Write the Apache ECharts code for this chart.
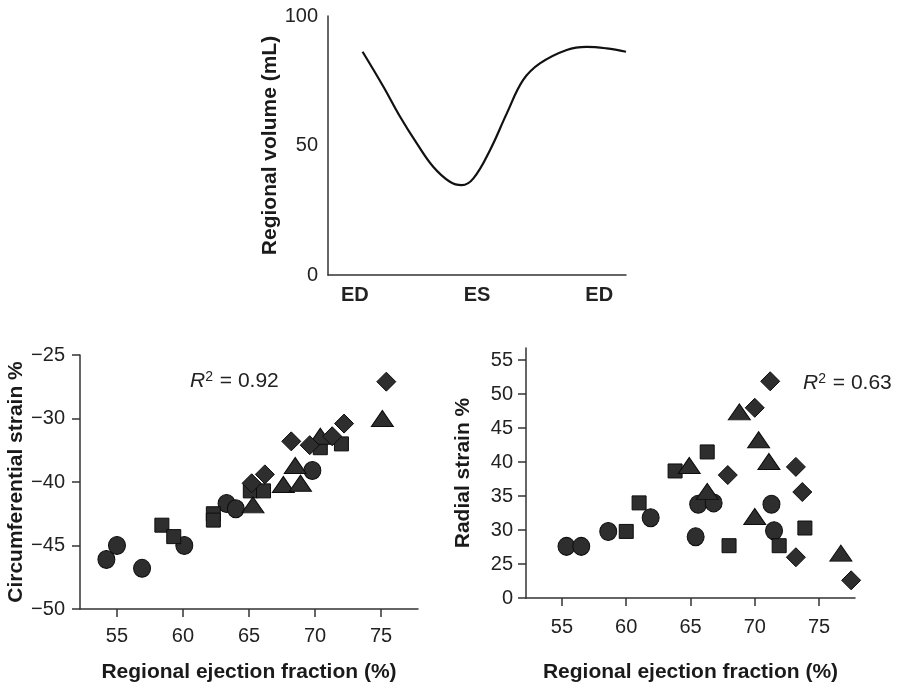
<!DOCTYPE html>
<html>
<head>
    <meta charset="utf-8">
    <title>Regional volume and strain</title>
    <script src="https://cdn.jsdelivr.net/npm/echarts@6/dist/echarts.min.js"></script>
    <style>
        html, body { margin: 0; padding: 0; background: #fff; }
        #main { width: 904px; height: 691px; }
    </style>
</head>
<body>
<div id="main"></div>
<script type="text/javascript">
    // top panel: regional volume over one cycle
    var phaseTicks = [9, 50, 91];
    var phaseLabels = ['ED', 'ES', 'ED'];
    var phaseX = [11.6, 18.6, 24.2, 29.8, 35.3, 40.9, 44.9, 48.8, 54.4, 60.0, 65.5, 71.1, 80.1, 86.8, 93.5, 100];
    var volume = [86.2, 72.7, 61.1, 50.8, 41.8, 36.0, 34.7, 37.3, 48.3, 62.4, 75.3, 81.7, 86.9, 88.1, 87.5, 86.2];

    // shared x ticks of the two scatter panels
    var efTicks = [55, 60, 65, 70, 75];

    // bottom-left: circumferential strain vs regional EF
    var circTicks = [-50, -45, -40, -35, -30];
    var circTickLabels = ['\u221250', '\u221245', '\u221240', '\u221230', '\u221225'];
    var circCircles = [[54.2, -46.1], [55.0, -45.0], [56.9, -46.8], [60.1, -45.0], [63.3, -41.7], [64.0, -42.1], [69.8, -39.1]];
    var circSquares = [[58.4, -43.4], [59.3, -44.3], [62.3, -42.5], [62.3, -43.0], [65.1, -40.7], [66.1, -40.7], [70.4, -37.3], [72.0, -37.0]];
    var circTriangles = [[65.3, -41.8], [67.6, -40.2], [68.5, -38.7], [68.9, -40.1], [70.4, -36.4], [75.1, -35.0]];
    var circDiamonds = [[65.2, -40.1], [66.2, -39.4], [68.2, -36.8], [69.6, -37.1], [71.3, -36.4], [72.2, -35.4], [75.4, -32.1]];

    // bottom-right: radial strain vs regional EF (axis broken below 25)
    var radTicks = [20, 25, 30, 35, 40, 45, 50, 55];
    var radTickLabels = ['0', '25', '30', '35', '40', '45', '50', '55'];
    var radCircles = [[55.35, 27.6], [56.5, 27.6], [58.6, 29.8], [61.9, 31.8], [65.6, 33.8], [66.8, 34.0], [65.4, 29.0], [71.3, 33.8], [71.5, 29.9]];
    var radSquares = [[60.0, 29.8], [61.0, 34.0], [63.8, 38.7], [66.3, 41.5], [68.0, 27.7], [71.9, 27.7], [73.9, 30.3]];
    var radTriangles = [[64.9, 39.5], [66.3, 35.7], [68.8, 47.4], [70.3, 43.3], [71.1, 40.1], [70.0, 32.0], [76.7, 26.6]];
    var radDiamonds = [[71.2, 51.9], [70.0, 48.0], [67.9, 38.1], [73.2, 39.3], [73.7, 35.6], [73.2, 26.0], [77.5, 22.6]];

    var FONT = '"Liberation Sans", Arial, sans-serif';
    var axisLine = { show: true, lineStyle: { color: '#333', width: 1.5 } };
    var labelStyle = { color: '#222', fontSize: 20, fontFamily: FONT };
    var nameStyle = { color: '#1a1a1a', fontSize: 21, fontWeight: 'bold', fontFamily: FONT };
    var markStyle = { color: '#2e2e2e', borderColor: '#0d0d0d', borderWidth: 1, opacity: 1 };

    function pickLabel(ticks, labels) {
        return function (v) {
            for (var i = 0; i < ticks.length; i++) {
                if (Math.abs(ticks[i] - v) < 1e-6) return labels[i];
            }
            return '';
        };
    }

    function efAxis(gridIndex, nameGap, margin) {
        return {
            gridIndex: gridIndex,
            type: 'value',
            min: 52.2,
            max: 77.8,
            name: 'Regional ejection fraction (%)',
            nameLocation: 'middle',
            nameGap: nameGap,
            nameTextStyle: nameStyle,
            axisLine: axisLine,
            axisTick: { show: true, length: 8, customValues: efTicks, lineStyle: { color: '#333', width: 1.5 } },
            axisLabel: Object.assign({ customValues: efTicks, margin: margin }, labelStyle),
            splitLine: { show: false }
        };
    }

    function scatter(name, symbol, size, data, xi, yi) {
        return {
            type: 'scatter',
            name: name,
            xAxisIndex: xi,
            yAxisIndex: yi,
            symbol: symbol,
            symbolSize: size,
            itemStyle: markStyle,
            data: data
        };
    }

    function rSquared(value) {
        return {
            text: '{i|R}{s|2}{n| = ' + value + '}',
            rich: {
                i: { fontSize: 21, fontStyle: 'italic', fontFamily: FONT, fill: '#222' },
                s: { fontSize: 14, fontFamily: FONT, fill: '#222', padding: [0, 1, 9, 0] },
                n: { fontSize: 21, fontFamily: FONT, fill: '#222' }
            }
        };
    }

    var chart = echarts.init(document.getElementById('main'));
    var option = {
        animation: false,
        backgroundColor: '#fff',
        grid: [
            { left: 328, top: 16, width: 298, height: 259 },
            { left: 80, top: 355, width: 338, height: 254 },
            { left: 526, top: 348, width: 329, height: 250 }
        ],
        xAxis: [
            {
                gridIndex: 0,
                type: 'value',
                min: 0,
                max: 100,
                axisLine: axisLine,
                axisTick: { show: false },
                axisLabel: Object.assign({}, labelStyle, {
                    customValues: phaseTicks,
                    formatter: pickLabel(phaseTicks, phaseLabels),
                    fontWeight: 'bold',
                    margin: 10
                }),
                splitLine: { show: false }
            },
            efAxis(1, 53, 17),
            efAxis(2, 64, 19)
        ],
        yAxis: [
            {
                gridIndex: 0,
                type: 'value',
                min: 0,
                max: 100,
                interval: 50,
                name: 'Regional volume (mL)',
                nameLocation: 'middle',
                nameGap: 44,
                nameTextStyle: nameStyle,
                axisLine: axisLine,
                axisTick: { show: false },
                axisLabel: Object.assign({ margin: 10 }, labelStyle),
                splitLine: { show: false }
            },
            {
                gridIndex: 1,
                type: 'value',
                min: -50,
                max: -30,
                name: 'Circumferential strain %',
                nameLocation: 'middle',
                nameGap: 47,
                nameTextStyle: nameStyle,
                axisLine: axisLine,
                axisTick: { show: true, length: 8, customValues: circTicks, lineStyle: { color: '#333', width: 1.5 } },
                axisLabel: Object.assign({
                    customValues: circTicks,
                    formatter: pickLabel(circTicks, circTickLabels),
                    margin: 15
                }, labelStyle),
                splitLine: { show: false }
            },
            {
                gridIndex: 2,
                type: 'value',
                min: 20,
                max: 56.8,
                name: 'Radial strain %',
                nameLocation: 'middle',
                nameGap: 52,
                nameTextStyle: nameStyle,
                axisLine: axisLine,
                axisTick: { show: true, length: 8, customValues: radTicks, lineStyle: { color: '#333', width: 1.5 } },
                axisLabel: Object.assign({
                    customValues: radTicks,
                    formatter: pickLabel(radTicks, radTickLabels),
                    margin: 13
                }, labelStyle),
                splitLine: { show: false }
            }
        ],
        graphic: [
            { type: 'text', left: 190, top: 370, style: rSquared('0.92') },
            { type: 'text', left: 803, top: 372, style: rSquared('0.63') }
        ],
        series: [
            {
                type: 'line',
                xAxisIndex: 0,
                yAxisIndex: 0,
                smooth: 0.4,
                showSymbol: false,
                lineStyle: { color: '#111', width: 2.2 },
                data: phaseX.map(function (x, i) { return [x, volume[i]]; })
            },
            scatter('circle', 'circle', [17, 18], circCircles, 1, 1),
            scatter('square', 'rect', 14, circSquares, 1, 1),
            scatter('triangle', 'triangle', [22, 16], circTriangles, 1, 1),
            scatter('diamond', 'diamond', [19, 19], circDiamonds, 1, 1),
            scatter('circle', 'circle', [17, 18], radCircles, 2, 2),
            scatter('square', 'rect', 14, radSquares, 2, 2),
            scatter('triangle', 'triangle', [22, 16], radTriangles, 2, 2),
            scatter('diamond', 'diamond', [19, 19], radDiamonds, 2, 2)
        ]
    };
    chart.setOption(option);
</script>
</body>
</html>
